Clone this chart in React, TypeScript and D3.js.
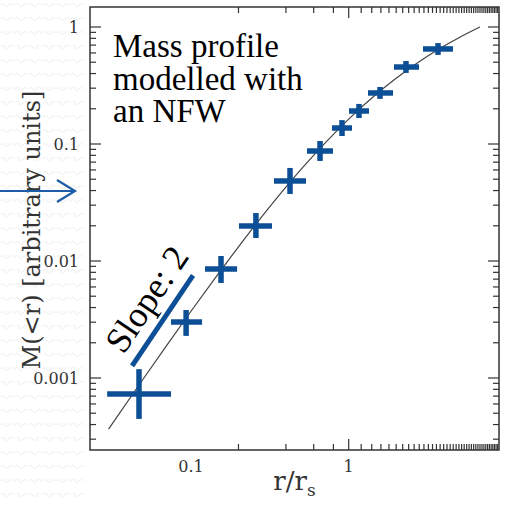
import React from "react";
import * as d3 from "d3";

// Data points (r/r_s, M(<r)) with error extents
const rVals = [0.0468, 0.0931, 0.155, 0.258, 0.4245, 0.658, 0.907, 1.162, 1.579, 2.308, 3.684];
const rLo = [0.0294, 0.0747, 0.1227, 0.2015, 0.336, 0.544, 0.784, 1.004, 1.326, 1.938, 2.959];
const rHi = [0.0747, 0.1175, 0.196, 0.3264, 0.536, 0.795, 1.049, 1.345, 1.91, 2.791, 4.585];
const mVals = [0.00073, 0.00301, 0.00855, 0.0199, 0.0483, 0.0871, 0.137, 0.1914, 0.273, 0.455, 0.649];
const mLo = [0.000447, 0.00229, 0.00649, 0.01573, 0.0374, 0.0716, 0.117, 0.1667, 0.243, 0.405, 0.577];
const mHi = [0.00119, 0.00381, 0.01103, 0.0257, 0.0624, 0.1061, 0.16, 0.22, 0.307, 0.512, 0.729];

// NFW model curve
const nfwR = [0.03, 0.05, 0.07, 0.1, 0.15, 0.2, 0.3, 0.5, 0.7, 1, 1.5, 2, 3, 4, 5, 6.8];
const nfwM = [0.000366, 0.00099, 0.00189, 0.00372, 0.00788, 0.01323, 0.0267, 0.061, 0.1004, 0.1632, 0.2673, 0.365, 0.5377, 0.684, 0.8099, 1.0];

// Slope-2 guide line
const slopeR = [0.0423, 0.103];
const slopeM = [0.00127, 0.00753];

const xMajor = [0.1, 1];
const xMajorLabels = ["0.1", "1"];
const yMajor = [0.001, 0.01, 0.1, 1];
const yMajorLabels = ["0.001", "0.01", "0.1", "1"];

const textLines = ["Mass profile", "modelled with", "an NFW"];

const BLUE = "#0c4f96";
const AX = "#333";
const SERIF = "'DejaVu Serif', 'Liberation Serif', serif";

export default function App() {
  const L = 90, R = 499, T = 7, B = 450;
  const x = d3.scaleLog().domain([Math.pow(10, -1.6405), Math.pow(10, 0.9531)]).range([L, R]);
  const y = d3.scaleLog().domain([Math.pow(10, -3.6154), Math.pow(10, 0.1709)]).range([B, T]);

  const isMajor = (v: number) => Math.abs(Math.log10(v) - Math.round(Math.log10(v))) < 1e-6;
  const xt = x.ticks(50);
  const yt = y.ticks(50);

  const curve = d3
    .line<number>()
    .x((_, i) => x(nfwR[i]))
    .y((d) => y(d))
    .curve(d3.curveMonotoneX)(nfwM) as string;

  const sx0 = x(slopeR[0]), sy0 = y(slopeM[0]), sx1 = x(slopeR[1]), sy1 = y(slopeM[1]);
  const ang = (Math.atan2(sy1 - sy0, sx1 - sx0) * 180) / Math.PI;
  const len = Math.hypot(sx1 - sx0, sy1 - sy0);
  const ux = (sx1 - sx0) / len, uy = (sy1 - sy0) / len;
  const px = uy, py = -ux;
  const off = 13, along = 9;
  const tx = (sx0 + sx1) / 2 + px * off + ux * along;
  const ty = (sy0 + sy1) / 2 + py * off + uy * along;

  const MAJ = 11, MIN = 6;

  return (
    <svg width={506} height={505} style={{ position: "absolute", left: 0, top: 0, background: "#fff" }}>
      <defs>
        <pattern id="wv" width="14" height="14" patternUnits="userSpaceOnUse">
          <path d="M1,5 q2,-3 4,0 q2,3 4,0 q2,-3 4,0" fill="none" stroke="#efefef" strokeWidth="1.2" />
        </pattern>
      </defs>
      <rect x={0} y={0} width={84} height={505} fill="url(#wv)" />

      {xt.map((v, i) => {
        const len2 = isMajor(v) ? MAJ : MIN;
        const px2 = x(v);
        return (
          <g key={"xt" + i}>
            <line x1={px2} x2={px2} y1={B} y2={B - len2} stroke={AX} strokeWidth={1.2} />
            <line x1={px2} x2={px2} y1={T} y2={T + len2} stroke={AX} strokeWidth={1.2} />
          </g>
        );
      })}
      {yt.map((v, i) => {
        const len2 = isMajor(v) ? MAJ : MIN;
        const py2 = y(v);
        return (
          <g key={"yt" + i}>
            <line x1={L} x2={L + len2} y1={py2} y2={py2} stroke={AX} strokeWidth={1.2} />
            <line x1={R} x2={R - len2} y1={py2} y2={py2} stroke={AX} strokeWidth={1.2} />
          </g>
        );
      })}
      <rect x={L} y={T} width={R - L} height={B - T} fill="none" stroke={AX} strokeWidth={1.5} />

      {xMajor.map((v, i) => (
        <text key={"xl" + i} x={x(v)} y={472} textAnchor="middle" fontFamily={SERIF} fontSize={16} fill="#333">
          {xMajorLabels[i]}
        </text>
      ))}
      {yMajor.map((v, i) => (
        <text key={"yl" + i} x={79} y={y(v) + 6} textAnchor="end" fontFamily={SERIF} fontSize={16} fill="#333">
          {yMajorLabels[i]}
        </text>
      ))}

      <text x={294.5} y={490} textAnchor="middle" fontFamily={SERIF} fontSize={26} fill="#333">
        r/r<tspan fontSize={17} dy={6}>s</tspan>
      </text>
      <text
        transform={`translate(40,230) rotate(-90)`}
        textAnchor="middle"
        fontFamily={SERIF}
        fontSize={24}
        fill="#333"
      >
        M(&lt;r) [arbitrary units]
      </text>

      <path d={curve} fill="none" stroke="#444" strokeWidth={1.2} />

      {rVals.map((r, i) => (
        <g key={"p" + i} stroke={BLUE} strokeWidth={5.5}>
          <line x1={x(rLo[i])} x2={x(rHi[i])} y1={y(mVals[i])} y2={y(mVals[i])} />
          <line x1={x(r)} x2={x(r)} y1={y(mLo[i])} y2={y(mHi[i])} />
        </g>
      ))}

      <line x1={sx0} y1={sy0} x2={sx1} y2={sy1} stroke={BLUE} strokeWidth={5} />
      <text
        transform={`translate(${tx},${ty}) rotate(${ang})`}
        textAnchor="middle"
        fontFamily="Liberation Serif"
        fontSize={36}
        fill="#000"
      >
        Slope: 2
      </text>

      {textLines.map((t, i) => (
        <text key={"tb" + i} x={113} y={57 + i * 32.5} fontFamily="Liberation Serif" fontSize={33} fill="#000">
          {t}
        </text>
      ))}

      <g stroke="#1d5ca6" strokeWidth={2.2} fill="none">
        <line x1={0} y1={191} x2={74} y2={191} />
        <path d="M57,180 L75,191 L57,202" />
      </g>
    </svg>
  );
}
